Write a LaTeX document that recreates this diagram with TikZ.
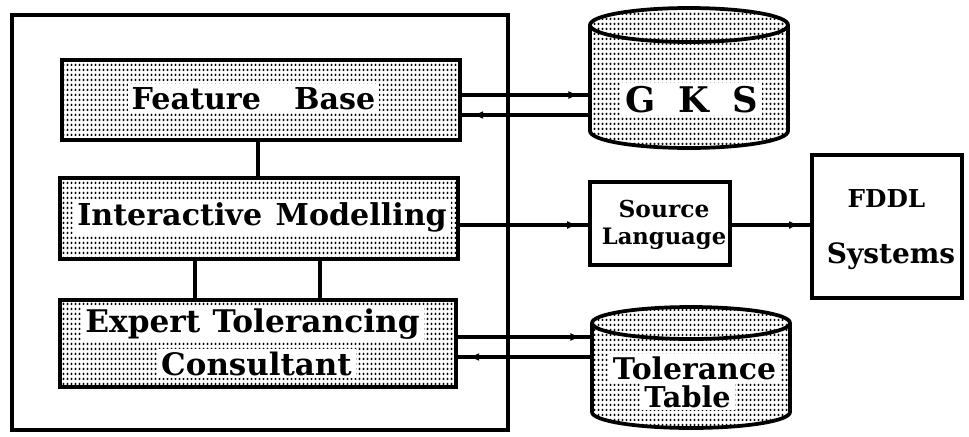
\documentclass[tikz,border=0pt]{standalone}
\usepackage{fontspec}
\setmainfont{DejaVu Serif}
\usetikzlibrary{arrows.meta,decorations.markings,fit,patterns}

% halftone-like dot screen used for the shaded modules
\pgfdeclarepatternformonly{scandots}{\pgfpointorigin}{\pgfpoint{2.6pt}{3.4pt}}{\pgfpoint{2.6pt}{3.4pt}}{%
  \pgfpathcircle{\pgfpoint{1.3pt}{1.7pt}}{1pt}\pgfusepath{fill}}

\newcommand{\fs}[1]{\bfseries\fontsize{#1}{#1}\selectfont}

\tikzset{
  modbox/.style={draw, line width=2.8pt, pattern=scandots, inner sep=0pt},
  plainbox/.style={draw, line width=2.4pt, fill=white, inner sep=0pt},
  area/.style={inner sep=0pt},
  hole/.style={fill=white, inner xsep=3pt, inner ysep=2pt, anchor=base},
  lbl/.style={inner sep=0pt, anchor=base},
  dbshape/.style={draw, line width=2.8pt, pattern=scandots},
  link/.style={line width=2.4pt},
  flow/.style={link, postaction={decorate},
    decoration={markings, mark=at position -8pt with {\arrow{Latex[length=8pt,width=6pt]}}}},
}

\begin{document}
\begin{tikzpicture}[x=0.75pt, y=-0.75pt]
\useasboundingbox (0,0) rectangle (969,436);

% enclosing system frame
\draw[line width=2.4pt] (12,15) rectangle (508,430);

% shaded modules
\node[modbox, fit={(62,60) (460,140)}]  (fb)  {};
\node[modbox, fit={(60,178) (458,259)}] (im)  {};
\node[modbox, fit={(60,300) (456,387)}] (etc) {};

% databases
\node[area, fit={(590,8) (788,148)}]   (gks) {};
\node[area, fit={(592,307) (790,428)}] (tt)  {};
\draw[dbshape] (590,25) -- (590,131) arc (180:0:99 and 17) -- (788,25) arc (0:-180:99 and 17) -- cycle;
\draw[line width=2.8pt] (590,25) arc (180:0:99 and 17);
\draw[dbshape] (592,323) -- (592,412) arc (180:0:99 and 16) -- (790,323) arc (0:-180:99 and 16) -- cycle;
\draw[line width=2.8pt] (592,323) arc (180:0:99 and 16);

% plain boxes
\node[plainbox, fit={(590,182) (730,265)}] (sl)   {};
\node[plainbox, fit={(812,155) (962,298)}] (fddl) {};

% labels
\node[hole, font=\fs{22.6}] (fbt) at (253.5,109) {Feature\hspace{1.1em}Base};
\node[hole, font=\fs{22.6}] (imt) at (262,225) {Interactive\hspace{0.45em}Modelling};
\node[hole, font=\fs{23.4}] (et1) at (252.5,332) {Expert\hspace{0.4em}Tolerancing};
\node[hole, font=\fs{23.2}] (et2) at (256.5,375) {Consultant};
\node[hole, font=\fs{26.5}] (gkst) at (691.5,112) {G\hspace{0.65em}K\hspace{0.65em}S};
\node[hole, font=\fs{22.4}] (tt1) at (694.5,379) {Tolerance};
\node[hole, font=\fs{21.5}] (tt2) at (687.5,407) {Table};
\node[lbl, font=\fs{17.5}] (sl1) at (664,217) {Source};
\node[lbl, font=\fs{17}] (sl2) at (664,244) {Language};
\node[lbl, font=\fs{18.5}] (fd1) at (886.5,207) {FDDL};
\node[lbl, font=\fs{21}] (fd2) at (891,263) {Systems};

% internal links
\draw[link] (fb.south -| 258,0) -- (im.north -| 258,0);
\draw[link] (im.south -| 195,0) -- (etc.north -| 195,0);
\draw[link] (im.south -| 320,0) -- (etc.north -| 320,0);

% data flows
\draw[flow] (fb.east |- 0,95)  -- (gks.west |- 0,95);
\draw[flow] (gks.west |- 0,115) -- (fb.east |- 0,115);
\draw[flow] (im.east |- 0,225) -- (sl.west |- 0,225);
\draw[flow] (sl.east |- 0,225) -- (fddl.west |- 0,225);
\draw[flow] (etc.east |- 0,337) -- (tt.west |- 0,337);
\draw[flow] (tt.west |- 0,357)  -- (etc.east |- 0,357);
\end{tikzpicture}
\end{document}
